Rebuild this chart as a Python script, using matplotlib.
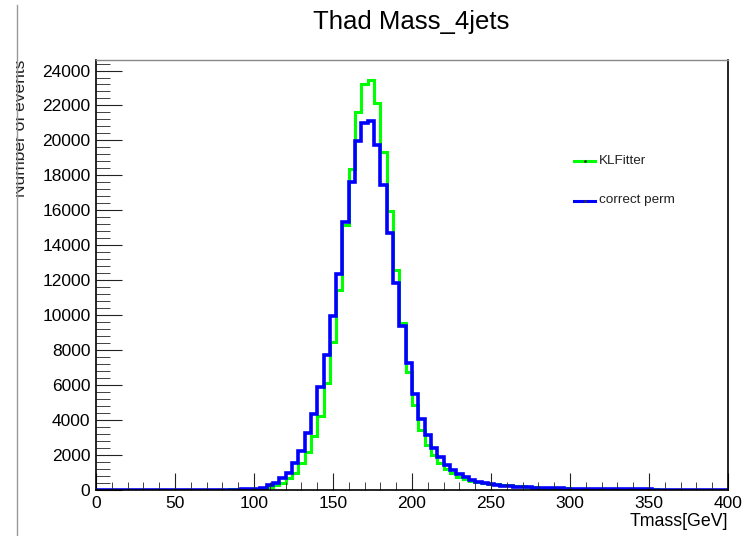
import numpy as np
import matplotlib
matplotlib.use('Agg')
import matplotlib.pyplot as plt
from matplotlib.ticker import MultipleLocator
from matplotlib.lines import Line2D
from matplotlib.patches import Rectangle

plt.rcParams['font.family'] = ['Liberation Sans', 'DejaVu Sans']

# 4 GeV bins from 0 to 400
bin_width = 4
edges = np.arange(0, 400 + bin_width, bin_width)

klfitter = [0] * 15 + [2, 4, 6, 10, 15,
            20, 30, 30, 28, 25,
            30, 60, 150, 270, 380,
            670, 990, 1520, 2150, 3100,
            4250, 6100, 8460, 11430, 15160,
            18380, 21620, 23200, 23430, 22130,
            19330, 15980, 12570, 9540, 6760,
            4860, 3430, 2570, 2000, 1540,
            1190, 950, 720, 610, 510,
            450, 400, 350, 320, 290,
            260, 230, 210, 180, 160,
            140, 120, 110, 100, 90,
            80, 72, 66, 60, 55, 50, 47, 44, 42, 40, 37, 35, 32,
            30, 28, 26, 24, 22, 20, 18, 17, 16, 14, 12, 10]

correct_perm = [0] * 15 + [2, 3, 5, 8, 10,
                15, 20, 25, 35, 45,
                70, 130, 270, 420, 670,
                950, 1520, 2210, 3240, 4320,
                5900, 7710, 9980, 12330, 15330,
                17620, 19940, 21010, 21140, 19750,
                17430, 14690, 11860, 9370, 7240,
                5520, 4040, 3160, 2410, 1880,
                1420, 1140, 890, 720, 570,
                480, 420, 340, 290, 250,
                220, 200, 180, 160, 140,
                125, 110, 100, 90, 80,
                70, 65, 60, 55, 50, 48, 45, 42, 40, 38, 35, 33, 30,
                28, 26, 24, 22, 20, 18, 16, 15, 14, 13, 12, 10]

labels = ['KLFitter', 'correct perm']
colors = ['#00ff00', '#0000ff']

W, H = 743, 536
fig = plt.figure(figsize=(W / 100, H / 100), dpi=100)
ax = fig.add_axes([96 / W, 1 - 490 / H, (728 - 96) / W, (490 - 60) / H])

ax.stairs(klfitter, edges, color=colors[0], lw=2.2, baseline=0)
ax.stairs(correct_perm, edges, color=colors[1], lw=2.6, baseline=0)

ax.set_xlim(0, 400)
ax.set_ylim(0, 1.05 * max(klfitter))

ax.xaxis.set_major_locator(MultipleLocator(50))
ax.xaxis.set_minor_locator(MultipleLocator(10))
ax.yaxis.set_major_locator(MultipleLocator(2000))
ax.yaxis.set_minor_locator(MultipleLocator(400))
ax.tick_params(which='both', direction='in', top=False, right=False,
               labelsize=12.5, color='#222222')
ax.tick_params(axis='x', which='major', length=12, pad=4)
ax.tick_params(axis='x', which='minor', length=6)
ax.tick_params(axis='y', which='major', length=19, pad=4)
ax.tick_params(axis='y', which='minor', length=10)

for s in ['left', 'bottom', 'right']:
    ax.spines[s].set_color('black')
    ax.spines[s].set_linewidth(1.2)
ax.spines['top'].set_color('#888888')
ax.spines['top'].set_linewidth(1.0)

fig.text(411 / W, 1 - 22 / H, 'Thad Mass_4jets', ha='center', va='center',
         fontsize=18.5)
fig.text(728 / W, 1 - 522 / H, 'Tmass[GeV]', ha='right', va='center',
         fontsize=12.8)
fig.text(21 / W, 1 - 60 / H, 'Number of events', rotation=90,
         ha='center', va='top', fontsize=12.5, color='#222222')

# legend, no box
for i, (lab, c) in enumerate(zip(labels, colors)):
    yy = 1 - (160.5 + 40 * i) / H
    fig.add_artist(Line2D([574 / W, 595 / W], [yy, yy], color=c, lw=2.2,
                          marker='.', markevery=[0], markersize=0))
    fig.add_artist(Line2D([584.5 / W], [yy], marker='.', markersize=2,
                          color='#333333', lw=0))
    fig.text(599 / W, yy, lab, ha='left', va='center', fontsize=9.7,
             color='#222222')

# screenshot edge on the left
fig.add_artist(Rectangle((0, 0), 16 / W, 1, transform=fig.transFigure,
                         facecolor='white', edgecolor='none', zorder=5))
fig.add_artist(Line2D([16.5 / W, 16.5 / W], [0, 1 - 5 / H], color='#999999',
                      lw=1.0, zorder=6))

fig.savefig('out.png', dpi=100)
